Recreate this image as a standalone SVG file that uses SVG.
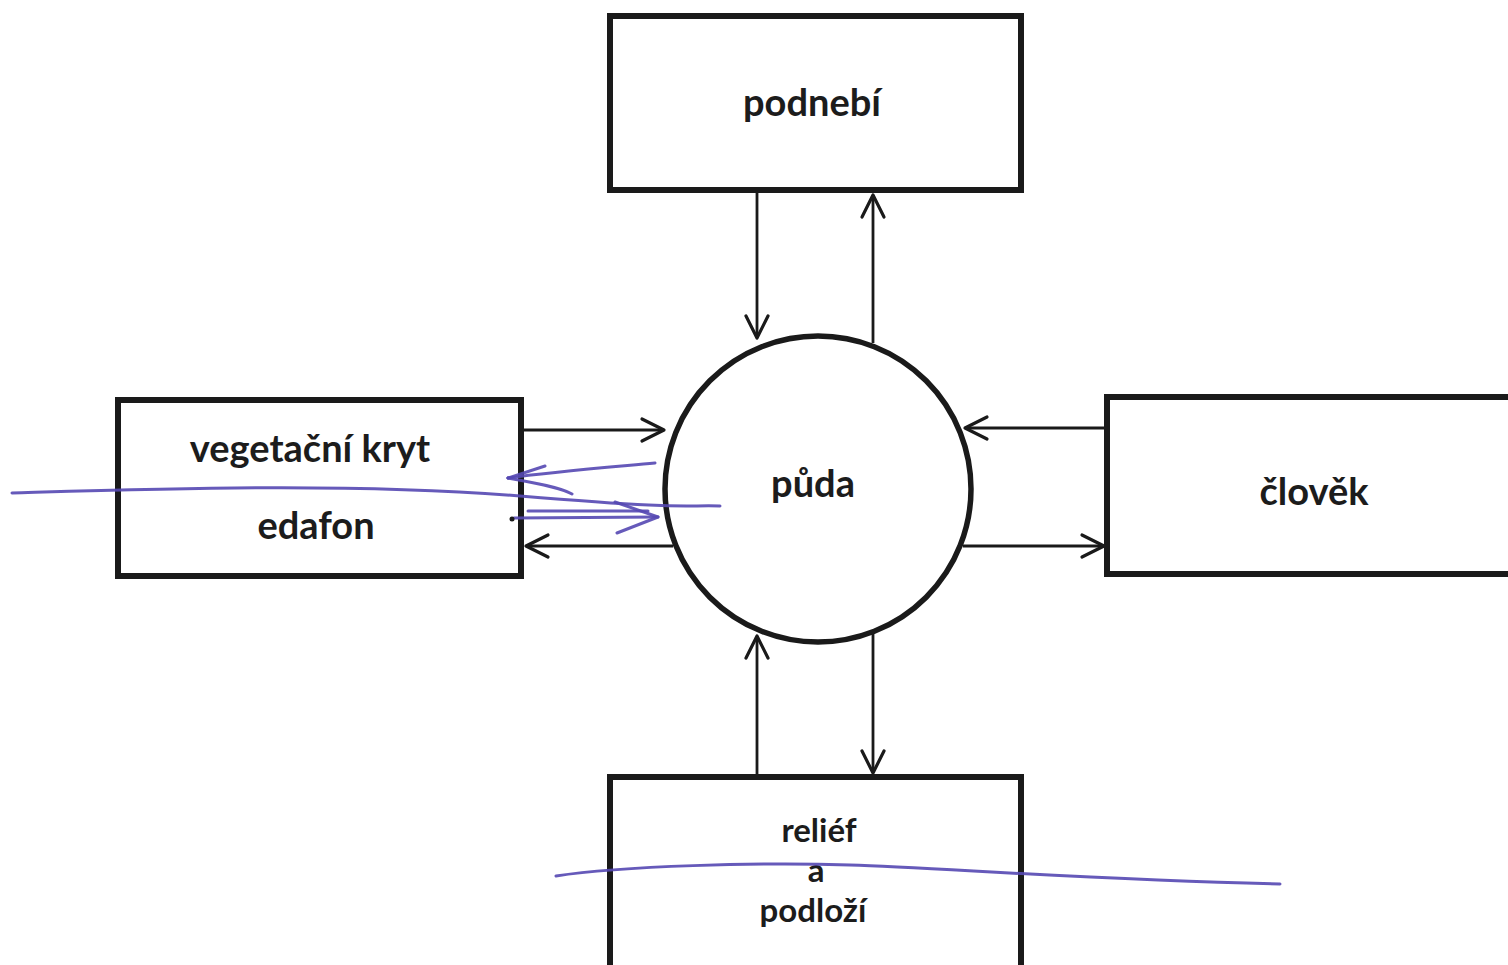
<svg xmlns="http://www.w3.org/2000/svg" width="1508" height="965" viewBox="0 0 1508 965">
<defs>
<style>
.box{fill:#fff;stroke:#1a1a1a;stroke-width:6}
.circ{fill:#fff;stroke:#1a1a1a;stroke-width:5.5}
.lbl{font-family:Lato,"Open Sans","Liberation Sans",sans-serif;font-weight:700;font-size:38px;fill:#1c1c1c;text-anchor:middle}
.sm{font-size:33px}
.ar{fill:none;stroke:#1a1a1a;stroke-width:2.8;marker-end:url(#ah)}
.pen{fill:none;stroke:#5548b2;stroke-width:3;stroke-linecap:round;stroke-linejoin:round;opacity:0.9}
</style>
<marker id="ah" markerUnits="userSpaceOnUse" markerWidth="30" markerHeight="30" refX="25" refY="13" orient="auto" overflow="visible">
<path d="M3,2 L25,13 L3,24" fill="none" stroke="#1a1a1a" stroke-width="3.2" stroke-linecap="round" stroke-linejoin="round"/>
</marker>
</defs>
<rect width="1508" height="965" fill="#fff"/>

<g id="connectors">
<path class="ar" d="M757,193 V338"/>
<path class="ar" d="M873,343 V195"/>
<path class="ar" d="M523,430 H664"/>
<path class="ar" d="M673,546 H526"/>
<path class="ar" d="M1105,428 H965"/>
<path class="ar" d="M963,546 H1104"/>
<path class="ar" d="M757,775 V636"/>
<path class="ar" d="M873,632 V773"/>
</g>

<g id="podnebi">
<rect class="box" x="610" y="16" width="411" height="174"/>
<text class="lbl" x="812" y="116">podnebí</text>
</g>

<g id="vegetacni-kryt-edafon">
<rect class="box" x="118" y="400" width="403" height="176"/>
<text class="lbl" x="310" y="462">vegetační kryt</text>
<text class="lbl" x="316" y="539">edafon</text>
</g>

<g id="puda">
<circle class="circ" cx="818" cy="489" r="153"/>
<text class="lbl" x="813" y="497">půda</text>
</g>

<g id="clovek">
<rect class="box" x="1107" y="397" width="430" height="177"/>
<text class="lbl" x="1314" y="505">člověk</text>
</g>

<g id="relief-a-podlozi">
<rect class="box" x="610" y="777" width="411" height="220"/>
<text class="lbl sm" x="819" y="842">reliéf</text>
<text class="lbl sm" x="816" y="882">a</text>
<text class="lbl sm" x="813" y="922">podloží</text>
</g>

<g id="pen-marks">
<path class="pen" d="M12,493 C150,489 350,482 520,496 S680,505 720,506"/>
<path class="pen" d="M655,463 C600,468 550,472 508,478"/>
<path class="pen" d="M508,478 L545,466"/>
<path class="pen" d="M508,478 C530,482 560,487 572,494"/>
<path class="pen" d="M514,518 L658,517"/>
<path class="pen" d="M528,511 L648,511"/>
<path class="pen" d="M615,502 L658,517 L617,533"/>
<circle cx="512" cy="519" r="2.5" fill="#1a1a1a"/>
<path class="pen" d="M556,876 C620,866 760,862 850,865 S1100,880 1280,884"/>
</g>
</svg>
